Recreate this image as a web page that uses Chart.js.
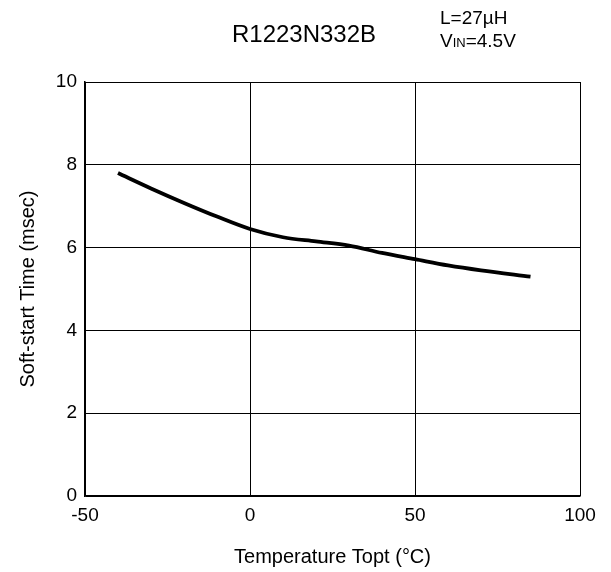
<!DOCTYPE html>
<html>
<head>
<meta charset="utf-8">
<script src="https://cdn.jsdelivr.net/npm/chart.js@4/dist/chart.umd.min.js"></script>
<style>
    body { margin: 0; background: #fff; }
    #wrap { width: 611px; height: 572px; }
</style>
</head>
<body>
<div id="wrap"><canvas id="softStartChart" width="611" height="572"></canvas></div>
<script>
// values
const temperatures = [-40, -30, -20, -10, 0, 10, 20, 30, 40, 50, 60, 70, 85];
const softStartTimes = [7.8, 7.43, 7.08, 6.75, 6.45, 6.25, 6.15, 6.05, 5.87, 5.72, 5.57, 5.45, 5.3];
const xTicks = [-50, 0, 50, 100];
const yTicks = [0, 2, 4, 6, 8, 10];

const chartTitle = 'R1223N332B';
const conditionLine1 = 'L=27\u00b5H';

const fontFamily = '"Liberation Sans", Arial, Helvetica, sans-serif';

// draws the part number and the test conditions above the plot
const headerPlugin = {
    id: 'header',
    afterDraw(chart) {
        const ctx = chart.ctx;
        ctx.save();
        ctx.fillStyle = '#000';
        ctx.textBaseline = 'alphabetic';

        ctx.font = '24px ' + fontFamily;
        ctx.textAlign = 'center';
        ctx.fillText(chartTitle, 304, 42);

        ctx.textAlign = 'left';
        ctx.font = '19px ' + fontFamily;
        ctx.fillText(conditionLine1, 440, 24);

        // V with small "IN" caps
        let x = 440;
        ctx.fillText('V', x, 47);
        x += ctx.measureText('V').width;
        ctx.font = '13px ' + fontFamily;
        ctx.fillText('IN', x, 47);
        x += ctx.measureText('IN').width;
        ctx.font = '19px ' + fontFamily;
        ctx.fillText('=4.5V', x, 47);
        ctx.restore();
    }
};

const ctxSoftStart = document.getElementById('softStartChart').getContext('2d');
const softStartChart = new Chart(ctxSoftStart, {
    type: 'line',
    data: {
        datasets: [{
            label: 'Soft-start Time',
            data: temperatures.map((t, i) => ({ x: t, y: softStartTimes[i] })),
            borderColor: '#000',
            borderWidth: 3.8,
            pointRadius: 0,
            fill: false,
            tension: 0.4,
            cubicInterpolationMode: 'monotone'
        }]
    },
    options: {
        responsive: false,
        animation: false,
        layout: {
            padding: { top: 82, right: 31, bottom: 0, left: 0 }
        },
        scales: {
            x: {
                type: 'linear',
                min: -50,
                max: 100,
                afterBuildTicks: scale => { scale.ticks = xTicks.map(v => ({ value: v })); },
                afterFit: scale => { scale.height = 76; },
                ticks: {
                    color: '#000',
                    padding: 8,
                    font: { family: fontFamily, size: 19 }
                },
                grid: { color: '#000', lineWidth: 1, drawTicks: false },
                border: { color: '#000', width: 1.5 },
                title: {
                    display: true,
                    text: 'Temperature Topt (\u00b0C)',
                    color: '#000',
                    padding: { top: 0, bottom: 3 },
                    font: { family: fontFamily, size: 20 }
                }
            },
            y: {
                min: 0,
                max: 10,
                afterBuildTicks: scale => { scale.ticks = yTicks.map(v => ({ value: v })); },
                afterFit: scale => { scale.width = 85; },
                ticks: {
                    color: '#000',
                    padding: 8,
                    font: { family: fontFamily, size: 19 }
                },
                grid: { color: '#000', lineWidth: 1, drawTicks: false },
                border: { color: '#000', width: 1.5 },
                title: {
                    display: true,
                    text: 'Soft-start Time (msec)',
                    color: '#000',
                    padding: { top: 16, bottom: 0 },
                    font: { family: fontFamily, size: 20 }
                }
            }
        },
        plugins: {
            legend: { display: false },
            tooltip: { enabled: false }
        }
    },
    plugins: [headerPlugin]
});
</script>
</body>
</html>
